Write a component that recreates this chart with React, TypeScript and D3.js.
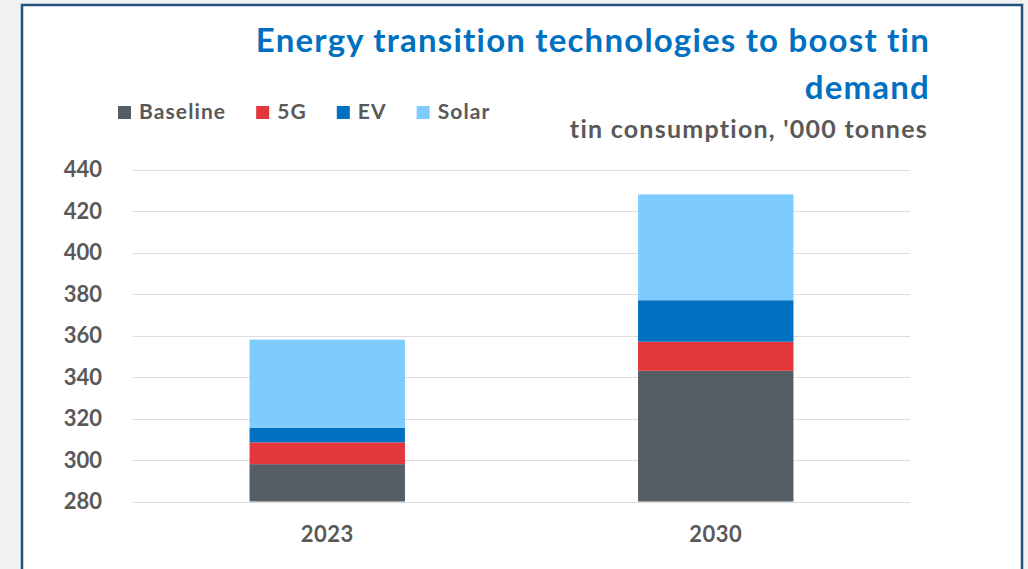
import React, { useEffect, useRef } from 'react';
import * as d3 from 'd3';

const years = ['2023', '2030'];
const seriesKeys = ['Baseline', '5G', 'EV', 'Solar'];
const baseline = [298, 343];
const fiveG = [10.5, 14];
const ev = [7, 20];
const solar = [42.5, 51];
const yTicks = [280, 300, 320, 340, 360, 380, 400, 420, 440];
const colors = ['#565e65', '#e2373b', '#0070c0', '#7ecbfd'];

const W = 1028;
const H = 569;
const FONT = 'Lato, "Open Sans", sans-serif';

export default function App() {
  const svgRef = useRef<SVGSVGElement>(null);

  useEffect(() => {
    if (!svgRef.current) return;
    const svg = d3.select(svgRef.current);
    svg.selectAll('*').remove();

    // page + frame
    svg.append('rect').attr('width', W).attr('height', H).attr('fill', '#eff1f3');
    svg.append('rect')
      .attr('x', 22).attr('y', 5)
      .attr('width', 1000).attr('height', 620)
      .attr('fill', '#ffffff')
      .attr('stroke', '#24527a')
      .attr('stroke-width', 2.5);

    const rows = years.map((yr, i) => ({
      year: yr,
      Baseline: baseline[i],
      '5G': fiveG[i],
      EV: ev[i],
      Solar: solar[i],
    }));

    const x = d3.scaleBand<string>()
      .domain(years)
      .range([133, 910])
      .paddingInner(0.6)
      .paddingOuter(0.3);

    const y = d3.scaleLinear()
      .domain([280, 440])
      .range([501.5, 169.5]);

    // gridlines
    svg.append('g')
      .selectAll('line')
      .data(yTicks)
      .join('line')
      .attr('x1', 133).attr('x2', 910)
      .attr('y1', d => Math.round(y(d)) + 0.5)
      .attr('y2', d => Math.round(y(d)) + 0.5)
      .attr('stroke', '#dcdcdc')
      .attr('stroke-width', 1);

    // y labels
    svg.append('g')
      .selectAll('text')
      .data(yTicks)
      .join('text')
      .attr('x', 102)
      .attr('y', d => y(d))
      .attr('dy', '0.36em')
      .attr('text-anchor', 'end')
      .attr('font-family', FONT)
      .attr('font-weight', 700)
      .attr('font-size', 22)
      .attr('fill', '#595959')
      .text(d => d);

    // stacked bars
    const stack = d3.stack<any>().keys(seriesKeys);
    const layers = stack(rows);
    svg.append('g')
      .selectAll('g')
      .data(layers)
      .join('g')
      .attr('fill', (_, i) => colors[i])
      .selectAll('rect')
      .data(d => d)
      .join('rect')
      .attr('x', d => x(d.data.year)!)
      .attr('width', x.bandwidth())
      .attr('y', d => y(d[1]))
      .attr('height', d => y(Math.max(d[0], 280)) - y(d[1]));

    // x labels
    svg.append('g')
      .selectAll('text')
      .data(years)
      .join('text')
      .attr('x', d => x(d)! + x.bandwidth() / 2)
      .attr('y', 542)
      .attr('text-anchor', 'middle')
      .attr('font-family', FONT)
      .attr('font-weight', 700)
      .attr('font-size', 22)
      .attr('letter-spacing', 0.5)
      .attr('fill', '#595959')
      .text(d => d);

    // title
    const title = svg.append('text')
      .attr('text-anchor', 'end')
      .attr('font-family', FONT)
      .attr('font-weight', 700)
      .attr('font-size', 33)
      .attr('letter-spacing', 1.2)
      .attr('fill', '#0070c0');
    title.append('tspan').attr('x', 930).attr('y', 52).text('Energy transition technologies to boost tin');
    title.append('tspan').attr('x', 930).attr('y', 99).text('demand');

    svg.append('text')
      .attr('x', 928).attr('y', 138)
      .attr('text-anchor', 'end')
      .attr('font-family', FONT)
      .attr('font-weight', 700)
      .attr('font-size', 25)
      .attr('letter-spacing', 1.25)
      .attr('fill', '#595959')
      .text("tin consumption, '000 tonnes");

    // legend
    let lx = 118;
    seriesKeys.forEach((k, i) => {
      const g = svg.append('g');
      g.append('rect')
        .attr('x', lx).attr('y', 106)
        .attr('width', 13).attr('height', 13)
        .attr('fill', colors[i]);
      const t = g.append('text')
        .attr('x', lx + 21).attr('y', 119)
        .attr('font-family', FONT)
        .attr('font-weight', 700)
        .attr('font-size', 21)
        .attr('letter-spacing', 1.1)
        .attr('fill', '#595959')
        .text(k);
      const tw = (t.node() as SVGTextElement).getComputedTextLength();
      lx = lx + 21 + tw + 30;
    });
  }, []);

  return (
    <svg
      ref={svgRef}
      width={W}
      height={H}
      style={{ position: 'absolute', left: 0, top: 0 }}
    />
  );
}
